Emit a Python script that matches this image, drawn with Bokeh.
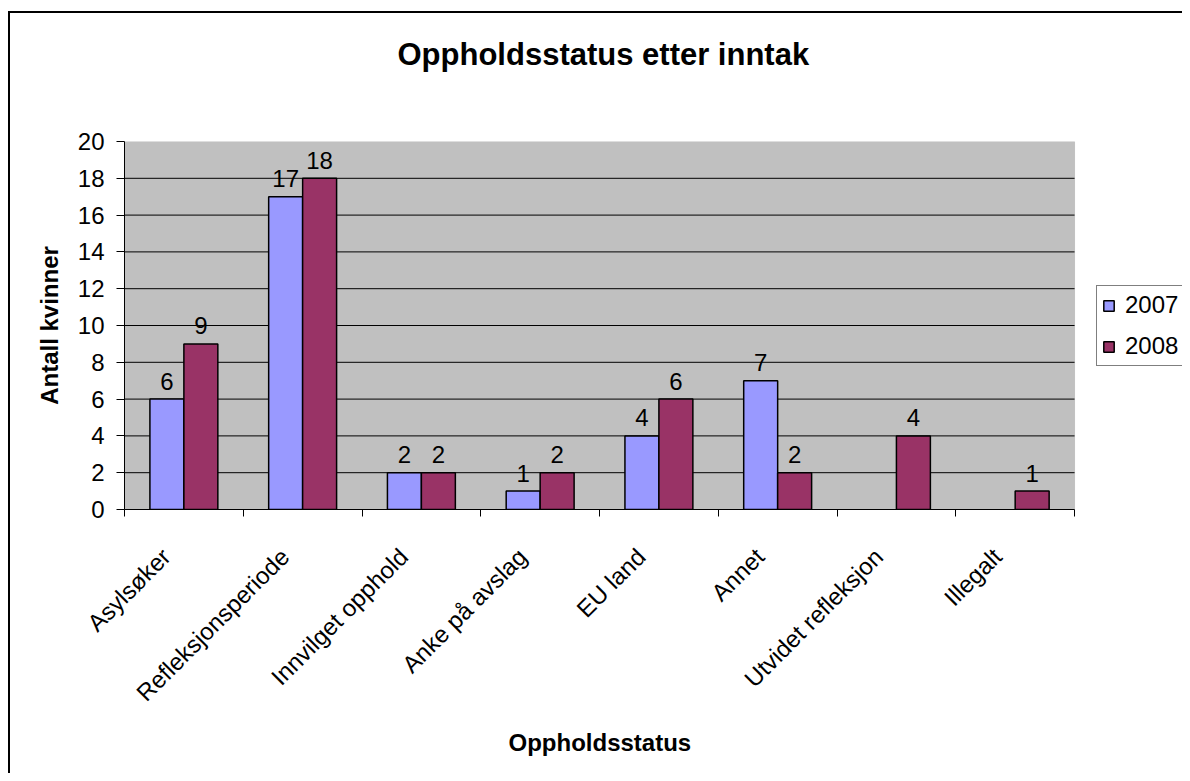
from bokeh.plotting import figure
from bokeh.models import (FixedTicker, Legend, LegendItem, ColumnDataSource, Title, BoxAnnotation,
                          InlineStyleSheet)
from bokeh.core.properties import value
from bokeh.embed import file_html
from bokeh.resources import INLINE
import math

# ---- data ----
categories = ["Asylsøker", "Refleksjonsperiode", "Innvilget opphold", "Anke på avslag",
              "EU land", "Annet", "Utvidet refleksjon", "Illegalt"]
series_names = ["2007", "2008"]
values_2007 = [6, 17, 2, 1, 4, 7, None, None]
values_2008 = [9, 18, 2, 2, 6, 2, 4, 1]
y_ticks = [0, 2, 4, 6, 8, 10, 12, 14, 16, 18, 20]
title_text = "Oppholdsstatus etter inntak"
x_title = "Oppholdsstatus"
y_title = "Antall kvinner"

colors = ["#9999FF", "#993366"]
FONT = "Liberation Sans"
BAR_W = 0.286
LABEL_SHIFT = 0.15
N = len(categories)
Y_MAX = y_ticks[-1]

# frame extends to the right so the legend can sit inside it; the grey plot area covers 0..N
p = figure(width=1182, height=773, x_range=(0, 8.909), y_range=(0, Y_MAX),
           output_backend="svg", toolbar_location=None,
           min_border_left=124, min_border_right=0, min_border_top=141, min_border_bottom=264)
p.stylesheets = [InlineStyleSheet(css="""
:host { position: relative; }
:host::after { content: ''; position: absolute; left: 8px; top: 11px; right: 0px; bottom: 0px;
  border-left: 2px solid black; border-top: 2px solid black; pointer-events: none; z-index: 50; }
""")]
p.background_fill_color = "white"
p.border_fill_color = "white"
p.outline_line_color = None

# grey plot area
p.add_layout(BoxAnnotation(left=0, right=N, bottom=0, top=Y_MAX, fill_color="#C0C0C0",
                           fill_alpha=1, line_color="#808080", line_width=1, level="underlay"))

# horizontal gridlines within the plot area
grid_y = [t for t in y_ticks if 0 < t < Y_MAX]
p.segment(x0=[0] * len(grid_y), x1=[N] * len(grid_y), y0=grid_y, y1=grid_y,
          line_color="black", line_width=1)
p.xgrid.visible = False
p.ygrid.visible = False

renderers = []
for k, (name, vals) in enumerate(zip(series_names, [values_2007, values_2008])):
    xs, tops, labels = [], [], []
    for i, v in enumerate(vals):
        if v is None:
            continue
        xs.append(i + 0.5 + (k - 0.5) * BAR_W)
        tops.append(v)
        labels.append(str(v))
    src = ColumnDataSource(dict(x=xs, top=tops, lbl=labels))
    r = p.vbar(x="x", top="top", width=BAR_W, bottom=0, source=src,
               fill_color=colors[k], line_color="black", line_width=1.5)
    renderers.append(r)
    p.text(x="x", y="top", text="lbl", source=src, text_align="center",
           text_baseline="alphabetic", y_offset=-18, text_font=value(FONT),
           text_font_size="24px", text_color="black")

# y axis
ya = p.yaxis[0]
ya.ticker = FixedTicker(ticks=y_ticks)
ya.axis_line_color = "black"
ya.major_tick_out = 8
ya.major_tick_in = 0
ya.minor_tick_line_color = None
ya.major_label_standoff = 12
ya.major_label_text_font = FONT
ya.major_label_text_font_size = "24px"
ya.major_label_text_color = "black"
ya.axis_label = y_title
ya.axis_label_text_font = FONT
ya.axis_label_text_font_size = "24px"
ya.axis_label_text_font_style = "bold"
ya.axis_label_text_color = "black"
ya.axis_label_standoff = 12

# x axis: labels near category centres, tick marks on category boundaries
label_pos = [i + 0.5 - LABEL_SHIFT for i in range(N)]
bounds = [float(i) for i in range(N + 1)]
xa = p.xaxis[0]
xa.bounds = (0, N)
xa.ticker = FixedTicker(ticks=label_pos, minor_ticks=bounds)
xa.major_label_overrides = {c: lab for c, lab in zip(label_pos, categories)}
xa.major_label_orientation = math.pi / 4
xa.major_tick_out = 0
xa.major_tick_in = 0
xa.minor_tick_out = 7
xa.minor_tick_in = 0
xa.minor_tick_line_color = "black"
xa.axis_line_color = "black"
xa.major_label_standoff = 36
xa.major_label_text_font = FONT
xa.major_label_text_font_size = "24px"
xa.major_label_text_color = "black"

# x axis title, centred under the grey plot area
p.add_layout(Title(text=x_title, align="left", offset=384, vertical_align="top", standoff=20,
                   text_font=FONT, text_font_size="24px", text_font_style="bold",
                   text_color="black"), "below")

# spacer between frame and title
p.add_layout(Title(text=" ", text_font_size="2px", standoff=66), "above")

# title
p.title.text = title_text
p.title.align = "left"
p.title.offset = 273
p.title.text_font = FONT
p.title.text_font_size = "31px"
p.title.text_font_style = "bold"
p.title.text_color = "black"
p.title.standoff = 0

# legend (inside the extended frame, right of the grey plot area)
legend = Legend(items=[LegendItem(label=n, renderers=[r]) for n, r in zip(series_names, renderers)],
                location=(972, 143))
legend.label_text_font = FONT
legend.label_text_font_size = "24px"
legend.label_text_color = "black"
legend.glyph_width = 13
legend.glyph_height = 13
legend.label_height = 28
legend.label_standoff = 10
legend.padding = 5
legend.spacing = 13
legend.margin = 0
legend.border_line_color = "black"
legend.border_line_width = 1
legend.background_fill_color = "white"
legend.background_fill_alpha = 1
p.add_layout(legend)

open("out.html", "w").write(file_html(p, INLINE))
